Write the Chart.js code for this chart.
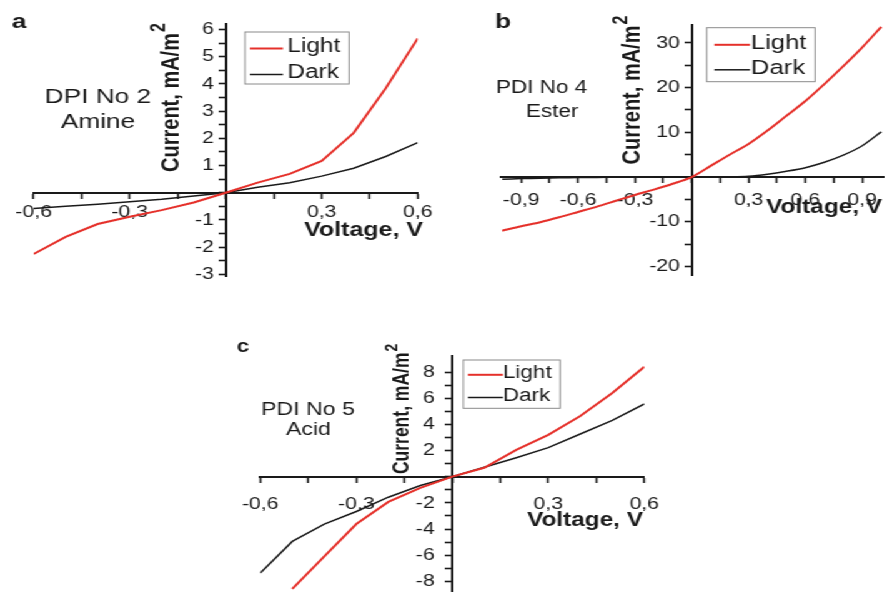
<!DOCTYPE html>
<html>
<head>
<meta charset="utf-8">
<script src="https://cdn.jsdelivr.net/npm/chart.js@4/dist/chart.umd.min.js"></script>
<style>
  html, body { margin: 0; padding: 0; background: #fff; overflow: hidden; }
  #wrap { position: absolute; left: 0; top: 0; width: 710px; height: 605px;
          transform: scaleX(1.2493); transform-origin: 0 0; }
  #wrap canvas { position: absolute; left: 0; top: 0; }
</style>
</head>
<body>
<div id="wrap">
  <canvas id="chartA" width="710" height="605"></canvas>
  <canvas id="chartB" width="710" height="605"></canvas>
  <canvas id="chartC" width="710" height="605"></canvas>
</div>
<script>
// panel a - DPI No 2 Amine
const voltsA = [-0.6, -0.5, -0.4, -0.3, -0.2, -0.1, 0, 0.1, 0.2, 0.3, 0.4, 0.5, 0.6];
const lightA = [-2.25, -1.62, -1.15, -0.88, -0.64, -0.36, 0, 0.37, 0.69, 1.17, 2.2, 3.84, 5.67];
const darkA = [-0.58, -0.5, -0.42, -0.33, -0.24, -0.12, 0, 0.2, 0.37, 0.61, 0.9, 1.33, 1.84];
const aXLabels = ['-0,6', '-0,3', '0,3', '0,6'];
const aYLabels = ['-3', '-2', '-1', '1', '2', '3', '4', '5', '6'];

// panel b - PDI No 4 Ester
const voltsB = [-1.0, -0.9, -0.8, -0.7, -0.6, -0.5, -0.4, -0.3, -0.2, -0.1, 0,
                0.1, 0.2, 0.3, 0.4, 0.5, 0.6, 0.7, 0.8, 0.9, 1.0];
const lightB = [-12.0, -11.0, -10.1, -9.0, -7.8, -6.6, -5.3, -4.0, -2.8, -1.5, 0,
                2.5, 5.0, 7.4, 10.4, 13.7, 17.0, 20.8, 24.8, 29.0, 33.6];
const darkB = [-0.5, -0.35, -0.25, -0.18, -0.12, -0.08, -0.05, -0.03, -0.02, -0.01, 0,
               0.02, 0.06, 0.2, 0.65, 1.3, 2.1, 3.3, 4.9, 7.0, 10.1];
const bXLabels = ['-0,9', '-0,6', '-0,3', '0,3', '0,6', '0,9'];
const bYLabels = ['-20', '-10', '10', '20', '30'];

// panel c - PDI No 5 Acid
const voltsC = [-0.6, -0.5, -0.4, -0.3, -0.2, -0.1, 0, 0.1, 0.2, 0.3, 0.4, 0.5, 0.6];
const lightC = [null, -8.57, -6.1, -3.62, -1.93, -0.85, 0, 0.68, 2.05, 3.2, 4.64, 6.4, 8.4];
const darkC = [-7.37, -4.95, -3.62, -2.66, -1.57, -0.68, 0, 0.72, 1.45, 2.22, 3.26, 4.3, 5.56];
const cXLabels = ['-0,6', '-0,3', '0,3', '0,6'];
const cYLabels = ['-8', '-6', '-4', '-2', '2', '4', '6', '8'];

const seriesNames = ['Light', 'Dark'];

const INK = '#1a1a1a';
const RED = '#e5302a';
const FONT = "'Liberation Sans', Arial, sans-serif";

Chart.defaults.font.family = FONT;
Chart.defaults.color = INK;

const toNum = s => parseFloat(s.replace(',', '.'));

// axis crossing at origin, labels from the label list, minor ticks every `step`
// gap: x labels -> padding below the axis, y labels -> spaces kept right of the text
function axis(dir, min, max, labels, step, gap) {
  const nums = labels.map(toNum);
  const tail = dir === 'y' ? ' '.repeat(gap) : '';
  return {
    type: 'linear',
    min: min,
    max: max,
    position: dir === 'x' ? { y: 0 } : { x: 0 },
    afterFit: s => { if (dir === 'x') s.height = 0; else s.width = 0; },
    afterBuildTicks: s => {
      const lo = Math.min(...nums), hi = Math.max(...nums);
      const vals = [];
      for (let i = 0; lo + i * step <= hi + 1e-9; i++) vals.push(+(lo + i * step).toFixed(4));
      s.ticks = vals.map(v => ({ value: v }));
    },
    grid: { display: true, drawOnChartArea: false, drawTicks: true, tickLength: 5,
            tickWidth: 1.6, tickColor: INK, color: INK },
    border: { display: true, color: INK, width: 2 },
    ticks: {
      autoSkip: false,
      maxRotation: 0,
      padding: dir === 'x' ? gap : 3,
      color: INK,
      font: { size: 17 },
      callback: v => {
        const i = nums.findIndex(n => Math.abs(n - v) < 1e-6);
        return i < 0 ? '' : labels[i] + tail;
      }
    }
  };
}

function pts(xs, ys) {
  return xs.map((x, i) => ({ x: x, y: ys[i] }));
}

// text, axis titles and the boxed legend of a panel
const decor = {
  id: 'decor',
  afterDraw(chart, args, o) {
    const ctx = chart.ctx;
    ctx.save();
    ctx.fillStyle = INK;

    ctx.font = `bold ${o.letter.size}px ${FONT}`;
    ctx.textAlign = 'left';
    ctx.textBaseline = 'alphabetic';
    ctx.fillText(o.letter.t, o.letter.x, o.letter.y);

    ctx.textAlign = 'center';
    ctx.textBaseline = 'middle';
    o.names.forEach(n => {
      ctx.font = `${n.size}px ${FONT}`;
      ctx.fillText(n.t, n.x, n.y);
    });

    ctx.font = `bold ${o.xTitle.size}px ${FONT}`;
    ctx.fillText('Voltage, V', o.xTitle.x, o.xTitle.y);

    // rotated y title with superscript
    const yt = o.yTitle;
    ctx.save();
    ctx.translate(yt.x, yt.y);
    ctx.rotate(-Math.PI / 2);
    ctx.font = `bold ${yt.size}px ${FONT}`;
    ctx.textBaseline = 'alphabetic';
    const main = 'Current, mA/m';
    const w = ctx.measureText(main).width;
    ctx.textAlign = 'left';
    ctx.fillText(main, -w / 2, 0);
    ctx.font = `bold ${yt.supSize}px ${FONT}`;
    ctx.fillText('2', w / 2 + 1, yt.supShift);
    ctx.restore();

    // legend
    const lg = o.legend;
    ctx.strokeStyle = '#8a8a8a';
    ctx.lineWidth = 1;
    ctx.strokeRect(lg.x, lg.y, lg.w, lg.h);
    ctx.font = `${lg.size}px ${FONT}`;
    ctx.textAlign = 'left';
    ctx.textBaseline = 'middle';
    chart.data.datasets.forEach((ds, i) => {
      const ry = lg.y + lg.rows[i];
      ctx.strokeStyle = ds.borderColor;
      ctx.lineWidth = ds.borderWidth;
      ctx.beginPath();
      ctx.moveTo(lg.x + lg.lineX, ry + 1.5);
      ctx.lineTo(lg.x + lg.lineX + lg.lineLen, ry + 1.5);
      ctx.stroke();
      ctx.fillStyle = INK;
      ctx.fillText(ds.label, lg.x + lg.textX, ry);
    });
    ctx.restore();
  }
};

function makeChart(id, cfg) {
  return new Chart(document.getElementById(id), {
    type: 'line',
    data: {
      datasets: [
        { label: seriesNames[0], data: cfg.light, borderColor: RED, borderWidth: 2,
          pointRadius: 0, tension: cfg.tension, fill: false },
        { label: seriesNames[1], data: cfg.dark, borderColor: INK, borderWidth: 1.5,
          pointRadius: 0, tension: cfg.tension, fill: false }
      ]
    },
    options: {
      responsive: false,
      animation: false,
      events: [],
      layout: { padding: cfg.padding },
      scales: { x: cfg.x, y: cfg.y },
      plugins: {
        legend: { display: false },
        tooltip: { enabled: false },
        decor: cfg.decor
      }
    },
    plugins: [decor]
  });
}

makeChart('chartA', {
  light: pts(voltsA, lightA),
  dark: pts(voltsA, darkA),
  tension: 0,
  padding: { left: 26.98, right: 375.66, top: 24, bottom: 329 },
  x: axis('x', -0.6, 0.6, aXLabels, 0.15, 4),
  y: axis('y', -3.06, 6.2, aYLabels, 0.5, 2),
  decor: {
    letter: { t: 'a', x: 9.4, y: 28.3, size: 21 },
    names: [{ t: 'DPI No 2', x: 78.4, y: 97, size: 21 }, { t: 'Amine', x: 78.4, y: 122, size: 21 }],
    xTitle: { x: 291, y: 230, size: 20 },
    yTitle: { x: 142.5, y: 102.5, size: 20, supSize: 16, supShift: -11 },
    legend: { x: 196.1, y: 32, w: 83.3, h: 52, lineX: 4, lineLen: 26.4, textX: 34, rows: [15, 41], size: 19.5 }
  }
});

makeChart('chartB', {
  light: pts(voltsB, lightB),
  dark: pts(voltsB, darkB),
  tension: 0.3,
  padding: { left: 400.53, right: 0.02, top: 25, bottom: 330 },
  x: axis('x', -1.01, 1.014, bXLabels, 0.15, 8),
  y: axis('y', -21.9, 34, bYLabels, 5, 2),
  decor: {
    letter: { t: 'b', x: 396.2, y: 28.3, size: 21 },
    names: [{ t: 'PDI No 4', x: 433.6, y: 88.3, size: 18 }, { t: 'Ester', x: 442.1, y: 111.7, size: 18 }],
    xTitle: { x: 659.6, y: 207.5, size: 19.5 },
    yTitle: { x: 511.5, y: 95, size: 20, supSize: 16, supShift: -10 },
    legend: { x: 565.7, y: 27.7, w: 86.7, h: 54, lineX: 6.1, lineLen: 28.5, textX: 35.4, rows: [15.6, 40.6], size: 20.5 }
  }
});

makeChart('chartC', {
  light: pts(voltsC, lightC),
  dark: pts(voltsC, darkC),
  tension: 0,
  padding: { left: 208.36, right: 194.28, top: 356.3, bottom: 0.3 },
  x: axis('x', -0.6, 0.6, cXLabels, 0.15, 12),
  y: axis('y', -8.8, 9.2, cYLabels, 1, 3),
  decor: {
    letter: { t: 'c', x: 189.5, y: 351.7, size: 18 },
    names: [{ t: 'PDI No 5', x: 246.5, y: 410, size: 18.5 }, { t: 'Acid', x: 246.9, y: 430, size: 18.5 }],
    xTitle: { x: 468.3, y: 520.5, size: 19.5 },
    yTitle: { x: 326.8, y: 413.3, size: 17.5, supSize: 14, supShift: -9 },
    legend: { x: 370.9, y: 360, w: 77.4, h: 48.3, lineX: 3.7, lineLen: 28, textX: 31.7, rows: [13.3, 36], size: 18 }
  }
});
</script>
</body>
</html>
